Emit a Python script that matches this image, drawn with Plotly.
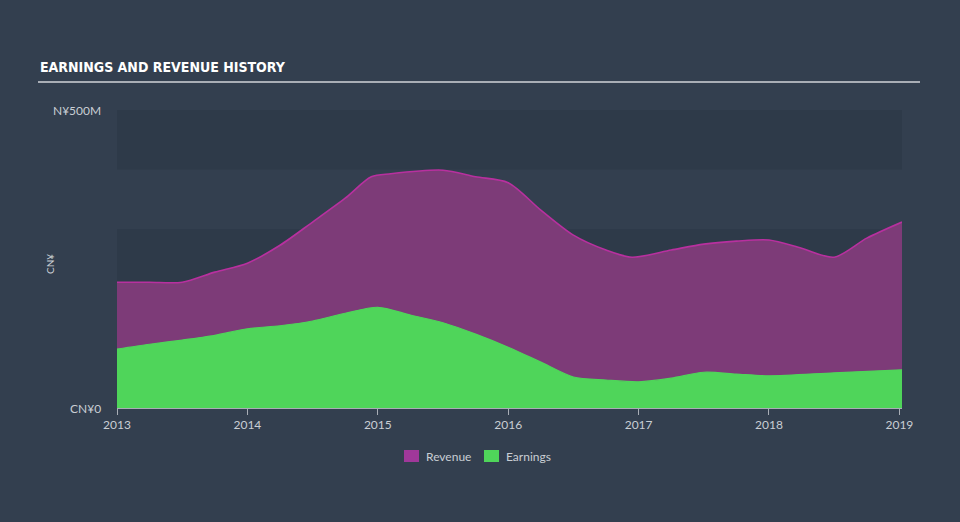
import plotly.graph_objects as go

years = [2013.0, 2013.25, 2013.5, 2013.75, 2014.0, 2014.25, 2014.5, 2014.75, 2014.95, 2015.1,
         2015.5, 2015.75, 2016.0, 2016.25, 2016.5, 2016.75, 2016.95, 2017.25, 2017.5, 2017.75,
         2018.0, 2018.25, 2018.5, 2018.75, 2019.02]
revenue = [211, 211, 211, 228, 243, 273, 312, 352, 388, 393,
           399, 388, 378, 332, 290, 265, 253, 265, 275, 280,
           282, 268, 253, 285, 312]
earn_years = [2013.0, 2013.25, 2013.5, 2013.75, 2014.0, 2014.25, 2014.5, 2014.75, 2015.0, 2015.25,
              2015.5, 2015.75, 2016.0, 2016.25, 2016.5, 2016.75, 2017.0, 2017.25, 2017.5, 2017.75,
              2018.0, 2018.5, 2019.02]
earnings = [99, 107, 114, 122, 133, 138, 146, 159, 169, 156,
            143, 124, 102, 77, 52, 47, 44, 50, 60, 57,
            54, 59, 64]
xticks = [2013, 2014, 2015, 2016, 2017, 2018, 2019]
yband_edges = [0, 100, 200, 300, 400, 500]
series_names = ["Revenue", "Earnings"]

BG = "#333f4f"
TXT = "#c9ced4"
FONT = "Lato, Open Sans, sans-serif"
REV_FILL = "#7d3b78"
REV_LINE = "#b8309f"
EARN = "#4fd55a"
SWATCH = ["#a0389a", EARN]

# plot area in pixels (for paper-coordinate conversion of decorations)
L, R, T, B = 117, 902, 110, 408
def px(x):
    return (x - L) / (R - L)
def py(y):
    return (B - y) / (B - T)

fig = go.Figure()
fig.add_trace(go.Scatter(x=years, y=revenue, name=series_names[0], mode="lines",
                         line=dict(color=REV_LINE, width=1.6, shape="spline", smoothing=0.8),
                         fill="tozeroy", fillcolor=REV_FILL))
fig.add_trace(go.Scatter(x=earn_years, y=earnings, name=series_names[1], mode="lines",
                         line=dict(color=EARN, width=1.2, shape="spline", smoothing=0.8),
                         fill="tozeroy", fillcolor=EARN))

shapes = []
for i in range(0, len(yband_edges) - 1):
    if i % 2 == 0:
        shapes.append(dict(type="rect", xref="paper", yref="y", x0=0, x1=1,
                           y0=yband_edges[i], y1=yband_edges[i + 1],
                           fillcolor="#2e3a49", line=dict(width=0), layer="below"))
# title underline
shapes.append(dict(type="line", xref="paper", yref="paper", x0=px(38), x1=px(920),
                   y0=py(82), y1=py(82), line=dict(color="#a9aeb6", width=2)))

annotations = [
    dict(text="<b>EARNINGS AND REVENUE HISTORY</b>", xref="paper", yref="paper",
         x=px(38), y=py(67), xanchor="left", yanchor="middle", showarrow=False,
         font=dict(family="DejaVu Sans Condensed, Liberation Sans Narrow, sans-serif",
                   size=14, color="#ffffff")),
    dict(text="N¥500M", xref="paper", yref="y", x=px(103), y=500, xanchor="right",
         yanchor="middle", showarrow=False, font=dict(family=FONT, size=12, color=TXT)),
    dict(text="CN¥0", xref="paper", yref="y", x=px(103), y=0, xanchor="right",
         yanchor="middle", showarrow=False, font=dict(family=FONT, size=12, color=TXT)),
    dict(text="CN¥", xref="paper", yref="paper", x=px(50), y=py(264), xanchor="center",
         yanchor="middle", textangle=-90, showarrow=False,
         font=dict(family=FONT, size=10, color=TXT)),
]

# custom legend
legend_sw_x = [404, 484]
for name, col, sx in zip(series_names, SWATCH, legend_sw_x):
    shapes.append(dict(type="rect", xref="paper", yref="paper",
                       x0=px(sx), x1=px(sx + 15), y0=py(462), y1=py(450),
                       fillcolor=col, line=dict(width=0)))
    annotations.append(dict(text=name, xref="paper", yref="paper", x=px(sx + 20), y=py(456),
                            xanchor="left", yanchor="middle", showarrow=False,
                            font=dict(family=FONT, size=12, color=TXT)))

fig.update_layout(
    width=960, height=522,
    paper_bgcolor=BG, plot_bgcolor="rgba(0,0,0,0)",
    margin=dict(l=L, r=960 - R, t=T, b=522 - B),
    shapes=shapes,
    annotations=annotations,
    showlegend=False,
    xaxis=dict(range=[2013, 2019.02], tickvals=xticks, ticktext=[str(t) for t in xticks],
               showgrid=False, zeroline=False, showline=True, linecolor="#a9aeb6", linewidth=1,
               ticks="outside", ticklen=6, tickcolor="#a9aeb6",
               tickfont=dict(family=FONT, size=12, color=TXT)),
    yaxis=dict(range=[0, 500], showgrid=False, zeroline=False, showticklabels=False,
               fixedrange=True),
)

fig.write_html("out.html")
